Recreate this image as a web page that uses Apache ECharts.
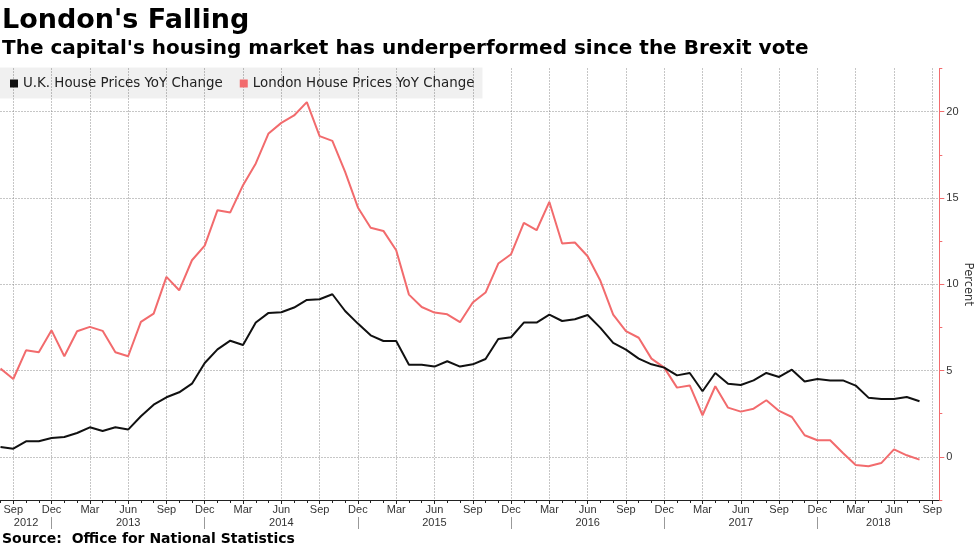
<!DOCTYPE html>
<html>
<head>
<meta charset="utf-8">
<script src="https://cdn.jsdelivr.net/npm/echarts@6/dist/echarts.min.js"></script>
<style>
html,body{margin:0;padding:0;background:#fff;}
#chart{width:977px;height:549px;}
</style>
</head>
<body>
<div id="chart"></div>
<script>
// ---- data ----
const months = [
  'Aug 2012','Sep 2012','Oct 2012','Nov 2012','Dec 2012',
  'Jan 2013','Feb 2013','Mar 2013','Apr 2013','May 2013','Jun 2013','Jul 2013','Aug 2013','Sep 2013','Oct 2013','Nov 2013','Dec 2013',
  'Jan 2014','Feb 2014','Mar 2014','Apr 2014','May 2014','Jun 2014','Jul 2014','Aug 2014','Sep 2014','Oct 2014','Nov 2014','Dec 2014',
  'Jan 2015','Feb 2015','Mar 2015','Apr 2015','May 2015','Jun 2015','Jul 2015','Aug 2015','Sep 2015','Oct 2015','Nov 2015','Dec 2015',
  'Jan 2016','Feb 2016','Mar 2016','Apr 2016','May 2016','Jun 2016','Jul 2016','Aug 2016','Sep 2016','Oct 2016','Nov 2016','Dec 2016',
  'Jan 2017','Feb 2017','Mar 2017','Apr 2017','May 2017','Jun 2017','Jul 2017','Aug 2017','Sep 2017','Oct 2017','Nov 2017','Dec 2017',
  'Jan 2018','Feb 2018','Mar 2018','Apr 2018','May 2018','Jun 2018','Jul 2018','Aug 2018','Sep 2018'
];
const ukValues = [
  0.57,0.47,0.90,0.90,1.09,1.15,1.38,1.71,1.50,1.71,
  1.58,2.35,3.02,3.45,3.74,4.24,5.44,6.23,6.73,6.48,
  7.78,8.34,8.38,8.65,9.09,9.13,9.42,8.45,7.72,7.04,
  6.71,6.71,5.34,5.34,5.23,5.54,5.23,5.36,5.67,6.83,
  6.93,7.78,7.78,8.24,7.87,7.97,8.22,7.47,6.60,6.21,
  5.69,5.36,5.17,4.72,4.86,3.80,4.86,4.24,4.16,4.43,
  4.86,4.63,5.05,4.36,4.51,4.43,4.43,4.13,3.43,3.35,
  3.35,3.47,3.22
];
const londonValues = [
  5.11,4.51,6.17,6.06,7.33,5.83,7.28,7.53,7.30,6.06,
  5.83,7.82,8.30,10.43,9.65,11.39,12.24,14.29,14.16,15.74,
  17.00,18.74,19.35,19.78,20.55,18.58,18.31,16.51,14.45,13.27,
  13.09,11.97,9.40,8.68,8.36,8.26,7.80,8.94,9.52,11.20,
  11.74,13.55,13.13,14.77,12.36,12.42,11.62,10.20,8.24,7.29,
  6.90,5.69,5.17,4.01,4.14,2.41,4.09,2.85,2.62,2.79,
  3.28,2.66,2.31,1.25,0.96,0.96,0.22,-0.47,-0.55,-0.36,
  0.43,0.09,-0.16
];
const seriesNames = ['U.K. House Prices YoY Change', 'London House Prices YoY Change'];
const monthTickNames = ['Sep','Dec','Mar','Jun'];
const yearLabels = ['2012','2013','2014','2015','2016','2017','2018'];
const yTickValues = [0,5,10,15,20];
const yMinorTickValues = [-2.5,2.5,7.5,12.5,17.5,22.5];

// ---- axis extents (layout) ----
const X_MIN = 0, X_MAX = 73.55;
const Y_MIN = -2.5, Y_MAX = 22.5;

// ---- derived ----
const allMonthIdx = months.map((m, i) => i);
const labeledIdx = allMonthIdx.filter(i => monthTickNames.includes(months[i].slice(0, 3)));
const decIdx = allMonthIdx.filter(i => months[i].startsWith('Dec'));
const bounds = [X_MIN].concat(decIdx, [X_MAX]);
const yearPos = bounds.slice(0, -1).map((b, k) => (b + bounds[k + 1]) / 2);

const RED = '#f26b6d';
const GRIDC = '#8c8c8c';
const GRID_DASH = [1, 2];
const AX_FONT = "'Liberation Sans', Arial, sans-serif";

const chart = echarts.init(document.getElementById('chart'), null, {renderer: 'canvas'});
const option = {
  animation: false,
  backgroundColor: '#ffffff',
  title: [
    {text: "London's Falling", left: 2, top: 6, padding: 0,
     textStyle: {fontFamily: 'DejaVu Sans', fontWeight: 'bold', fontSize: 27, lineHeight: 30, color: '#000'}},
    {text: "The capital's housing market has underperformed since the Brexit vote", left: 2, top: 37, padding: 0,
     textStyle: {fontFamily: 'DejaVu Sans', fontWeight: 'bold', fontSize: 20, lineHeight: 24, color: '#000'}},
    {text: 'Source:  Office for National Statistics', left: 2, top: 531, padding: 0,
     textStyle: {fontFamily: 'DejaVu Sans', fontWeight: 'bold', fontSize: 14, lineHeight: 16, color: '#000'}}
  ],
  legend: {
    left: 0, top: 67.5, padding: [9, 8, 8, 10],
    itemWidth: 8, itemHeight: 8, itemGap: 17, icon: 'rect',
    backgroundColor: 'rgba(0,0,0,0.06)',
    textStyle: {fontFamily: 'DejaVu Sans', fontSize: 13.4, color: '#222', lineHeight: 14},
    data: seriesNames
  },
  grid: {left: 0.5, right: 37.7, top: 68.5, bottom: 49, outerBoundsMode: 'none', containLabel: false},
  xAxis: [
    {
      type: 'value', min: X_MIN, max: X_MAX, position: 'bottom',
      axisLine: {show: true, onZero: false, lineStyle: {color: '#222', width: 1}},
      axisTick: {show: true, customValues: labeledIdx, length: 4, lineStyle: {color: '#222'}},
      axisLabel: {show: true, customValues: labeledIdx, formatter: v => months[Math.round(v)].slice(0, 3),
                  margin: 4, fontFamily: AX_FONT, fontSize: 11, color: '#333'},
      splitLine: {show: true, lineStyle: {color: GRIDC, type: GRID_DASH, width: 1}}
    },
    {
      type: 'value', min: X_MIN, max: X_MAX, position: 'bottom', offset: 17,
      axisLine: {show: false, onZero: false},
      axisTick: {show: true, customValues: decIdx, length: 12, lineStyle: {color: '#999'}},
      axisLabel: {show: true, customValues: yearPos,
                  formatter: v => { const k = yearPos.findIndex(p => Math.abs(p - v) < 1e-6); return k >= 0 ? yearLabels[k] : ''; },
                  margin: 0, fontFamily: AX_FONT, fontSize: 11, color: '#333'},
      splitLine: {show: false}
    },
    {
      type: 'value', min: X_MIN, max: X_MAX, position: 'bottom',
      axisLine: {show: false, onZero: false},
      axisTick: {show: true, customValues: allMonthIdx, length: 3, lineStyle: {color: '#222'}},
      axisLabel: {show: false},
      splitLine: {show: false}
    }
  ],
  yAxis: [
    {
      type: 'value', min: Y_MIN, max: Y_MAX, position: 'right',
      name: 'Percent', nameLocation: 'middle', nameRotate: -90, nameGap: 23, nameMoveOverlap: false,
      nameTextStyle: {fontFamily: 'DejaVu Sans', fontSize: 11.5, color: '#333'},
      axisLine: {show: true, onZero: false, lineStyle: {color: RED, width: 1}},
      axisTick: {show: true, customValues: yTickValues, length: 5, lineStyle: {color: RED}},
      axisLabel: {show: true, customValues: yTickValues, margin: 7, fontFamily: AX_FONT, fontSize: 11, color: '#333'},
      splitLine: {show: true, lineStyle: {color: GRIDC, type: GRID_DASH, width: 1}}
    },
    {
      type: 'value', min: Y_MIN, max: Y_MAX, position: 'right',
      axisLine: {show: false, onZero: false},
      axisTick: {show: true, customValues: yMinorTickValues, length: 3, lineStyle: {color: RED}},
      axisLabel: {show: false},
      splitLine: {show: false}
    }
  ],
  series: [
    {
      name: seriesNames[0], type: 'line', xAxisIndex: 0, yAxisIndex: 0,
      data: ukValues.map((v, i) => [i, v]),
      symbol: 'none', lineStyle: {color: '#111', width: 2}, itemStyle: {color: '#111'}, z: 3
    },
    {
      name: seriesNames[1], type: 'line', xAxisIndex: 0, yAxisIndex: 0,
      data: londonValues.map((v, i) => [i, v]),
      symbol: 'none', lineStyle: {color: RED, width: 2}, itemStyle: {color: RED}, z: 2
    }
  ]
};
chart.setOption(option);
</script>
</body>
</html>
